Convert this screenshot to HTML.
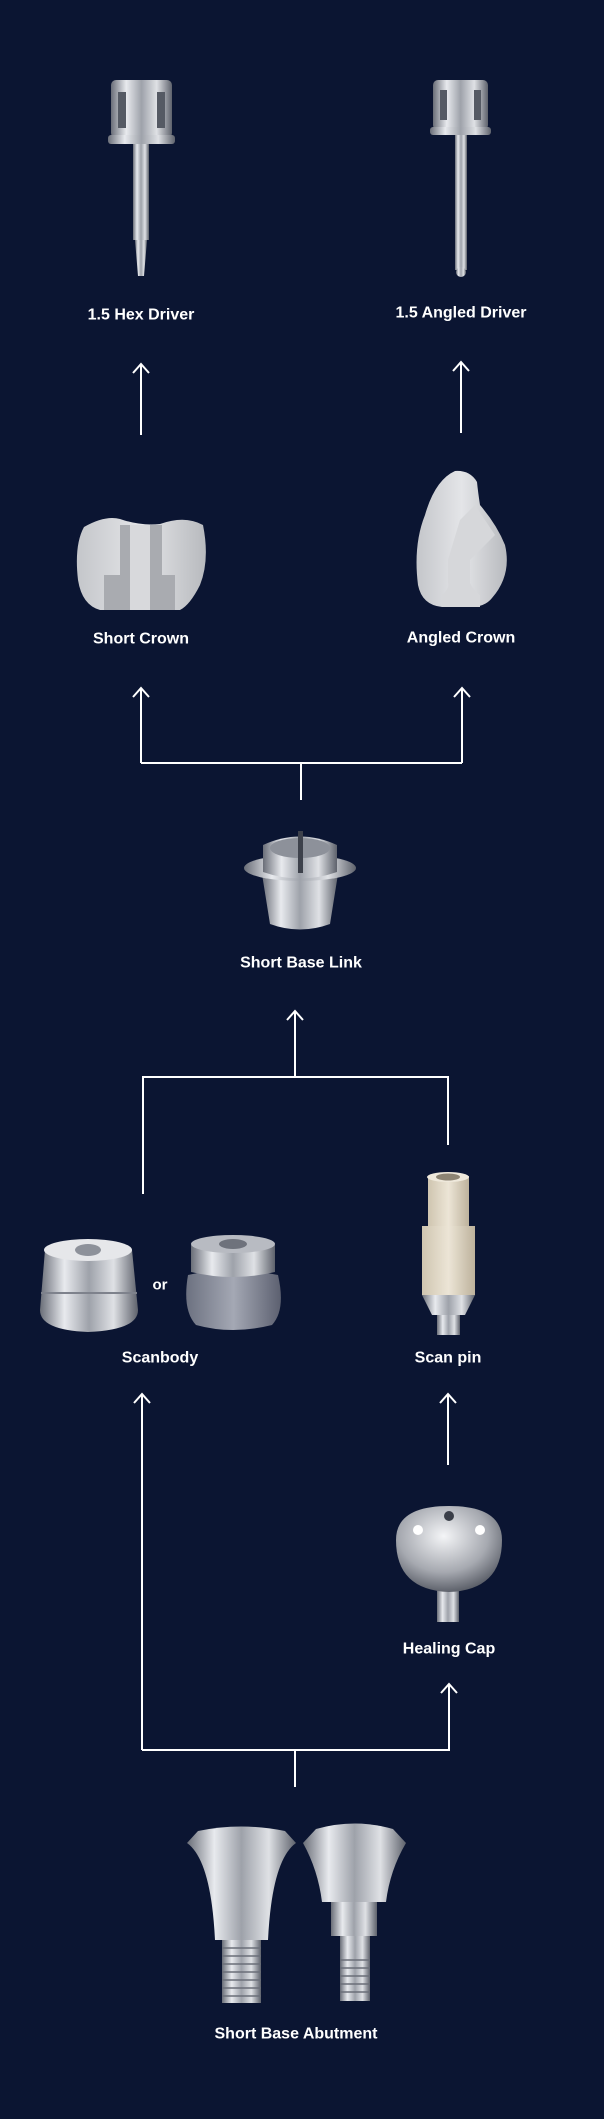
<!DOCTYPE html>
<html><head><meta charset="utf-8"><style>
html,body{margin:0;padding:0;background:#0b1532;}
svg{display:block}
text{font-family:"Liberation Sans",sans-serif;font-weight:bold;font-size:16px;fill:#fff;text-anchor:middle;dominant-baseline:central}
</style></head><body>
<svg width="604" height="2119" viewBox="0 0 604 2119" xmlns="http://www.w3.org/2000/svg">
<defs>
<linearGradient id="m" x1="0" x2="1" y1="0" y2="0">
<stop offset="0" stop-color="#6a6e78"/><stop offset="0.25" stop-color="#e8eaee"/><stop offset="0.5" stop-color="#9ea2aa"/><stop offset="0.75" stop-color="#dfe1e5"/><stop offset="1" stop-color="#5e626c"/></linearGradient>
<linearGradient id="w" x1="0" x2="1"><stop offset="0" stop-color="#c4c6ca"/><stop offset="0.5" stop-color="#e4e5e8"/><stop offset="1" stop-color="#b8babe"/></linearGradient>
<linearGradient id="c" x1="0" x2="1"><stop offset="0" stop-color="#cfc5b0"/><stop offset="0.5" stop-color="#ece5d6"/><stop offset="1" stop-color="#bdb29c"/></linearGradient>
<linearGradient id="g" x1="0" x2="1"><stop offset="0" stop-color="#6c7180"/><stop offset="0.5" stop-color="#a4a8b4"/><stop offset="1" stop-color="#5c6070"/></linearGradient>
<radialGradient id="r" cx="0.45" cy="0.35" r="0.7"><stop offset="0" stop-color="#f4f5f7"/><stop offset="0.6" stop-color="#a6a9b0"/><stop offset="1" stop-color="#4e525c"/></radialGradient>
</defs>
<rect width="604" height="2119" fill="#0b1532"/>

<!-- connectors -->
<g stroke="#fff" stroke-width="2" fill="none">
<path d="M141 435V364M133 373L141 364L149 373"/>
<path d="M461 433V362M453 371L461 362L469 371"/>
<path d="M301 800V763M141 763H462M141 763V688M133 697L141 688L149 697M462 763V688M454 697L462 688L470 697"/>
<path d="M143 1194V1077H448V1145M295 1077V1011M287 1020L295 1011L303 1020"/>
<path d="M142 1750V1394M134 1403L142 1394L150 1403"/>
<path d="M448 1465V1394M440 1403L448 1394L456 1403"/>
<path d="M295 1787V1750M142 1750H449V1684M441 1693L449 1684L457 1693"/>
</g>

<!-- hex driver -->
<rect x="111" y="80" width="61" height="58" rx="5" fill="url(#m)"/>
<rect x="118" y="92" width="8" height="36" fill="#555a64"/><rect x="157" y="92" width="8" height="36" fill="#555a64"/>
<rect x="108" y="135" width="67" height="9" rx="3" fill="url(#m)"/>
<rect x="133" y="144" width="16" height="96" fill="url(#m)"/>
<path d="M135 240H147L144 276H138Z" fill="url(#m)"/>
<text x="141" y="315">1.5 Hex Driver</text>

<!-- angled driver -->
<rect x="433" y="80" width="55" height="50" rx="5" fill="url(#m)"/>
<rect x="440" y="90" width="7" height="30" fill="#555a64"/><rect x="474" y="90" width="7" height="30" fill="#555a64"/>
<rect x="430" y="127" width="61" height="8" rx="3" fill="url(#m)"/>
<rect x="455" y="135" width="12" height="135" fill="url(#m)"/>
<circle cx="461" cy="272" r="5" fill="url(#m)"/>
<text x="461" y="313">1.5 Angled Driver</text>

<!-- short crown -->
<path d="M84 527Q105 515 120 519Q140 526 160 524Q185 515 203 525Q210 560 200 585Q190 605 180 610H100Q82 605 78 580Q74 545 84 527Z" fill="url(#w)"/>
<path d="M120 525H162V575H175V610H104V575H120Z" fill="#a9abb0"/>
<path d="M130 525H150V610H130Z" fill="#d8d9dc"/>
<text x="141" y="639">Short Crown</text>

<!-- angled crown -->
<path d="M455 471Q470 470 477 482Q478 492 480 505Q497 525 505 545Q512 575 492 598Q485 607 470 607H442Q422 605 418 585Q413 545 425 515Q435 480 455 471Z" fill="url(#w)"/>
<path d="M475 505L495 535L470 560L470 583Q473 590 480 595V607H442V595Q450 588 448 583L448 560L460 520Z" fill="#d6d7da"/>
<text x="461" y="638">Angled Crown</text>

<!-- short base link -->
<path d="M262 874H338L330 924Q300 935 270 924Z" fill="url(#m)"/>
<ellipse cx="300" cy="868" rx="56" ry="13" fill="url(#m)"/>
<path d="M263 845Q300 828 337 845V872Q300 885 263 872Z" fill="url(#m)"/>
<ellipse cx="300" cy="848" rx="30" ry="10" fill="#8d919a"/>
<rect x="298" y="831" width="5" height="42" fill="#3d414b"/>
<text x="301" y="963">Short Base Link</text>

<!-- scanbodies -->
<path d="M45 1250Q88 1235 132 1250L138 1310Q138 1330 88 1332Q40 1330 40 1310Z" fill="url(#m)"/>
<ellipse cx="88" cy="1250" rx="44" ry="11" fill="#e6e7ea"/>
<ellipse cx="88" cy="1250" rx="13" ry="6" fill="#8d919a"/>
<path d="M41 1293H137" stroke="#7e828c" stroke-width="2"/>
<text x="160" y="1285" style="font-size:15px">or</text>
<path d="M188 1275Q232 1265 278 1275Q286 1310 272 1325Q232 1335 196 1325Q182 1310 188 1275Z" fill="url(#g)"/>
<path d="M191 1245Q233 1230 275 1245V1272Q233 1282 191 1272Z" fill="url(#m)"/>
<ellipse cx="233" cy="1244" rx="42" ry="9" fill="#b8bbc2"/>
<ellipse cx="233" cy="1244" rx="14" ry="5" fill="#6e727c"/>
<text x="160" y="1358">Scanbody</text>

<!-- scan pin -->
<rect x="428" y="1176" width="41" height="50" fill="url(#c)"/>
<ellipse cx="448" cy="1177" rx="21" ry="5" fill="#efe9dc"/>
<ellipse cx="448" cy="1177" rx="12" ry="3.5" fill="#8d8473"/>
<path d="M422 1226H475V1295H422Z" fill="url(#c)"/>
<path d="M422 1295H475L465 1315H432Z" fill="url(#m)"/>
<rect x="437" y="1315" width="23" height="20" fill="url(#m)"/>
<text x="448" y="1358">Scan pin</text>

<!-- healing cap -->
<rect x="437" y="1588" width="22" height="34" fill="url(#m)"/>
<path d="M396 1540Q396 1506 449 1506Q502 1506 502 1540Q502 1590 449 1592Q396 1590 396 1540Z" fill="url(#r)"/>
<circle cx="449" cy="1516" r="5" fill="#3a3e48"/>
<circle cx="418" cy="1530" r="5" fill="#fff"/><circle cx="480" cy="1530" r="5" fill="#fff"/>
<text x="449" y="1649">Healing Cap</text>

<!-- abutments -->
<path d="M198 1831Q241 1822 285 1831L296 1843H187Z" fill="url(#m)"/>
<path d="M187 1843H296Q272 1860 268 1940H215Q211 1860 187 1843Z" fill="url(#m)"/>
<rect x="222" y="1940" width="39" height="63" fill="url(#m)"/>
<g stroke="#6a6e78" stroke-width="1.5"><path d="M222 1948H261M222 1956H261M222 1964H261M222 1972H261M222 1980H261M222 1988H261M222 1996H261"/></g>
<path d="M316 1829Q355 1818 393 1829L406 1843H303Z" fill="url(#m)"/>
<path d="M303 1843H406Q390 1870 386 1902H322Q318 1870 303 1843Z" fill="url(#m)"/>
<rect x="331" y="1902" width="46" height="34" fill="url(#m)"/>
<rect x="340" y="1936" width="30" height="65" fill="url(#m)"/>
<g stroke="#6a6e78" stroke-width="1.5"><path d="M340 1960H370M340 1968H370M340 1976H370M340 1984H370M340 1992H370"/></g>
<text x="296" y="2034">Short Base Abutment</text>
</svg>
</body></html>
